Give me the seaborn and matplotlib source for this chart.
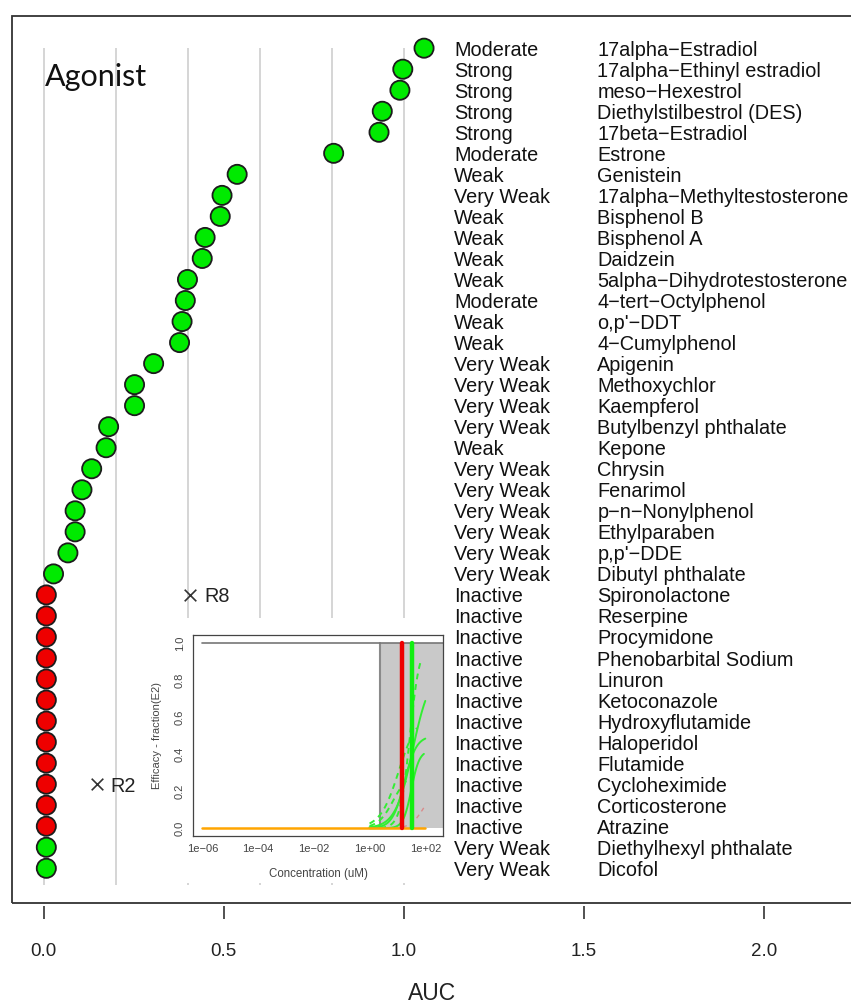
import numpy as np
import pandas as pd
import matplotlib
matplotlib.use("Agg")
import matplotlib.pyplot as plt
from matplotlib.patches import Rectangle
import seaborn as sns

# ---- data -------------------------------------------------------------
chemicals = [
    "17alpha\u2212Estradiol", "17alpha\u2212Ethinyl estradiol", "meso\u2212Hexestrol",
    "Diethylstilbestrol (DES)", "17beta\u2212Estradiol", "Estrone", "Genistein",
    "17alpha\u2212Methyltestosterone", "Bisphenol B", "Bisphenol A", "Daidzein",
    "5alpha\u2212Dihydrotestosterone", "4\u2212tert\u2212Octylphenol", "o,p'\u2212DDT",
    "4\u2212Cumylphenol", "Apigenin", "Methoxychlor", "Kaempferol",
    "Butylbenzyl phthalate", "Kepone", "Chrysin", "Fenarimol",
    "p\u2212n\u2212Nonylphenol", "Ethylparaben", "p,p'\u2212DDE", "Dibutyl phthalate",
    "Spironolactone", "Reserpine", "Procymidone", "Phenobarbital Sodium", "Linuron",
    "Ketoconazole", "Hydroxyflutamide", "Haloperidol", "Flutamide", "Cycloheximide",
    "Corticosterone", "Atrazine", "Diethylhexyl phthalate", "Dicofol",
]
potency = [
    "Moderate", "Strong", "Strong", "Strong", "Strong", "Moderate", "Weak",
    "Very Weak", "Weak", "Weak", "Weak", "Weak", "Moderate", "Weak", "Weak",
    "Very Weak", "Very Weak", "Very Weak", "Very Weak", "Weak", "Very Weak",
    "Very Weak", "Very Weak", "Very Weak", "Very Weak", "Very Weak",
    "Inactive", "Inactive", "Inactive", "Inactive", "Inactive", "Inactive",
    "Inactive", "Inactive", "Inactive", "Inactive", "Inactive", "Inactive",
    "Very Weak", "Very Weak",
]
auc = [
    1.056, 0.997, 0.989, 0.940, 0.931, 0.805, 0.537, 0.495, 0.490, 0.448,
    0.440, 0.399, 0.393, 0.384, 0.377, 0.305, 0.252, 0.252, 0.180, 0.173,
    0.133, 0.106, 0.087, 0.087, 0.067, 0.027,
    0.007, 0.007, 0.007, 0.007, 0.007, 0.007, 0.007, 0.007, 0.007, 0.007,
    0.007, 0.007, 0.007, 0.007,
]

# reference chemicals, placed on the row of a listed chemical
ref_labels = ["R8", "R2"]
ref_auc = [0.406, 0.147]
ref_row_of = ["Spironolactone", "Cycloheximide"]

x_ticks = [0.0, 0.5, 1.0, 1.5, 2.0]
grid_at = [0.0, 0.2, 0.4, 0.6, 0.8, 1.0]

# inset: concentration-response summary
inset_xticks = [1e-6, 1e-4, 1e-2, 1e0, 1e2]
inset_xticklabels = ["1e\u221206", "1e\u221204", "1e\u221202", "1e+00", "1e+02"]
inset_yticks = [0.0, 0.2, 0.4, 0.6, 0.8, 1.0]
cytotox_start = 2.4          # uM, start of shaded cytotoxicity zone
red_ac50 = 14.5              # uM
green_ac50 = 33.0            # uM
curve_top = [0.85, 0.50, 1.00, 0.62, 0.42, 0.30]
curve_log_ac50 = [1.55, 1.25, 1.45, 1.05, 1.50, 0.85]
curve_hill = [1.4, 2.0, 2.5, 1.3, 3.0, 1.6]
curve_log_max = [2.0, 2.0, 1.85, 1.7, 1.95, 1.6]
curve_dashed = [False, False, True, True, False, True]
red_curve = dict(top=0.20, log_ac50=1.9, hill=2.0, log_max=2.0)

# ---- style ------------------------------------------------------------
sns.set_style("white")
plt.rcParams["font.family"] = ["Liberation Sans", "DejaVu Sans"]

W, H = 851, 1006
fig = plt.figure(figsize=(W / 100, H / 100), dpi=100)
fig.patch.set_facecolor("white")


def fx(px):
    return px / W


def fy(py):
    return 1 - py / H


n = len(chemicals)
df = pd.DataFrame({
    "chemical": chemicals,
    "potency": potency,
    "auc": auc,
    "row": np.arange(n, 0, -1),
})
df["status"] = np.where(df["potency"] == "Inactive", "inactive", "active")

# ---- main dot chart ---------------------------------------------------
left_px, right_px, top_px, bottom_px = 12, 853, 16, 903
ax = fig.add_axes([fx(left_px), fy(bottom_px), fx(right_px - left_px),
                   (bottom_px - top_px) / H])
ax.set_zorder(0)
ax.set_xlim(-0.0883, 2.2473)
ax.set_ylim(-0.65, 41.53)

ax.vlines(grid_at, 0.2, 40.0, color="#d2d2d2", lw=1.3, zorder=1)

sns.scatterplot(data=df, x="auc", y="row", hue="status",
                palette={"active": "#00ea00", "inactive": "#ee0000"},
                s=190, edgecolor="#1c1c1c", linewidth=1.3, legend=False,
                ax=ax, zorder=3, clip_on=False)

label_size = 14.3
for _, r in df.iterrows():
    ax.text(1.14, r["row"], r["potency"], fontsize=label_size, color="#111111",
            va="center_baseline", ha="left", clip_on=False)
    ax.text(1.537, r["row"], r["chemical"], fontsize=label_size, color="#111111",
            va="center_baseline", ha="left", clip_on=False)

row_lookup = dict(zip(df["chemical"], df["row"]))
ref_rows = [row_lookup[c] for c in ref_row_of]
ax.scatter(ref_auc, ref_rows, marker="x", s=70, color="#333333",
           linewidths=1.2, zorder=3)
for lab, xa, yr in zip(ref_labels, ref_auc, ref_rows):
    ax.annotate(lab, (xa, yr), xytext=(10, 0), textcoords="offset points",
                fontsize=label_size, color="#222222", va="center_baseline", ha="left")

# box with outward axis ticks
for s in ax.spines.values():
    s.set_visible(False)
ax.add_patch(Rectangle((0, 0), 1, 1, transform=ax.transAxes, fill=False,
                       edgecolor="#333333", lw=1.3, clip_on=False, zorder=5))
ax.spines["bottom"].set_position(("outward", 2.5))
ax.set_yticks([])
ax.set_xticks(x_ticks)
ax.set_xticklabels([f"{t:.1f}" for t in x_ticks])
ax.tick_params(axis="x", direction="out", length=9.5, width=1.2,
               color="#333333", pad=17, labelsize=13.5, labelcolor="#222222",
               bottom=True)
ax.set_xlabel("AUC", fontsize=16.5, color="#222222", labelpad=16)
ax.set_ylabel("")

fig.text(fx(45), fy(86), "Agonist", fontsize=22, family="Lato",
         color="#111111", va="baseline", ha="left")

# ---- inset ------------------------------------------------------------
fig.patches.append(Rectangle((fx(142), fy(883)), fx(447 - 142), (883 - 618) / H,
                             transform=fig.transFigure, facecolor="white",
                             edgecolor="none", zorder=1))

ins = fig.add_axes([fx(193.3), fy(836), fx(443.3 - 193.3), (836 - 635) / H])
ins.set_zorder(2)
ins.set_xscale("log")
ins.set_xlim(10 ** -6.323, 10 ** 2.646)
ins.set_ylim(-0.042, 1.045)
ins.set_facecolor("white")

xmax = 10 ** 2.646
ins.add_patch(Rectangle((cytotox_start, 0), xmax - cytotox_start, 1,
                        facecolor="#c9c9c9", edgecolor="none", zorder=1))
ins.plot([cytotox_start, cytotox_start], [0, 1], color="#8a8a8a", lw=1.5, zorder=2)
ins.plot([1e-6, xmax], [1, 1], color="#777777", lw=1.2, zorder=2)
ins.plot([1e-6, 1e2], [0, 0], color="#ffa500", lw=1.8, zorder=4)

for top, lac, h, lmax, dashed in zip(curve_top, curve_log_ac50, curve_hill,
                                     curve_log_max, curve_dashed):
    lc = np.linspace(0.0, lmax, 60)
    resp = top / (1 + 10 ** (h * (lac - lc)))
    ins.plot(10 ** lc, resp, color="#33ee33", lw=1.4,
             ls=(0, (3, 2.5)) if dashed else "-", zorder=3)
lc = np.linspace(0.0, red_curve["log_max"], 60)
resp = red_curve["top"] / (1 + 10 ** (red_curve["hill"] * (red_curve["log_ac50"] - lc)))
ins.plot(10 ** lc, resp, color="#e07070", lw=1.0, ls=(0, (3, 3)), alpha=0.7, zorder=3)

ins.plot([red_ac50, red_ac50], [0, 1], color="#ee0000", lw=3.2, zorder=5)
ins.plot([green_ac50, green_ac50], [0, 1], color="#11ee11", lw=3.2, zorder=5)

ins.set_xticks(inset_xticks)
ins.set_xticklabels(inset_xticklabels)
ins.minorticks_off()
ins.set_yticks(inset_yticks)
ins.set_yticklabels([f"{t:.1f}" for t in inset_yticks], rotation=90, va="center")
ins.tick_params(direction="out", length=4, width=0.8, color="#555555",
                labelsize=8, labelcolor="#444444", pad=2)
for s in ins.spines.values():
    s.set_color("#444444")
    s.set_linewidth(0.9)
ins.set_xlabel("Concentration (uM)", fontsize=8.3, color="#444444", labelpad=10)
ins.set_ylabel("Efficacy - fraction(E2)", fontsize=8, color="#444444", labelpad=9)

fig.savefig("out.png", dpi=100)
